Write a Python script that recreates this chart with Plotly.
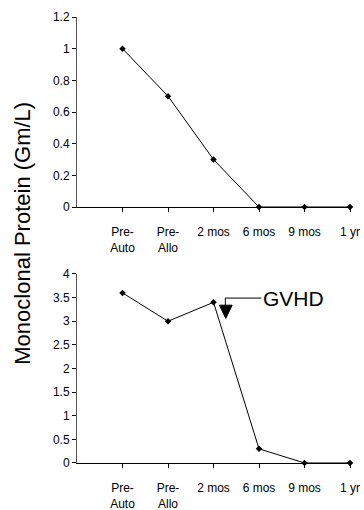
import plotly.graph_objects as go

categories = ["Pre-<br>Auto", "Pre-<br>Allo", "2 mos", "6 mos", "9 mos", "1 yr"]
positions = [0, 1, 2, 3, 4, 5]
top_values = [1.0, 0.7, 0.3, 0.0, 0.0, 0.0]
bottom_values = [3.6, 3.0, 3.4, 0.3, 0.0, 0.0]
top_ticks = [0, 0.2, 0.4, 0.6, 0.8, 1, 1.2]
bottom_ticks = [0, 0.5, 1, 1.5, 2, 2.5, 3, 3.5, 4]

FONT = "Arial, Liberation Sans, sans-serif"

fig = go.Figure()
for vals, xa, ya in [(top_values, "x", "y"), (bottom_values, "x2", "y2")]:
    fig.add_trace(go.Scatter(
        x=positions, y=vals, mode="lines+markers", xaxis=xa, yaxis=ya,
        line=dict(color="black", width=1),
        marker=dict(symbol="diamond", size=5, color="black"),
        showlegend=False, cliponaxis=False,
    ))

xcommon = dict(range=[-1, 5], tickvals=positions, ticktext=categories,
               showgrid=False, zeroline=False, showline=True, linecolor="black",
               linewidth=1, ticks="outside", ticklen=4, tickcolor="black",
               tickfont=dict(family=FONT, size=12, color="black"),
               ticklabelstandoff=10, automargin=False)
ycommon = dict(showgrid=False, zeroline=False, showline=True, linecolor="#555",
               linewidth=1, ticks="outside", ticklen=4, tickcolor="black",
               tickfont=dict(family=FONT, size=12, color="black"), automargin=False)

fig.update_layout(
    width=364, height=510,
    margin=dict(l=77, r=14, t=17, b=47),
    plot_bgcolor="white", paper_bgcolor="white",
    xaxis=dict(domain=[0, 1], anchor="y", **xcommon),
    yaxis=dict(domain=[0.574, 1], anchor="x", range=[0, 1.2], tickvals=top_ticks,
               ticktext=["0", "0.2", "0.4", "0.6", "0.8", "1", "1.2"], **ycommon),
    xaxis2=dict(domain=[0, 1], anchor="y2", **xcommon),
    yaxis2=dict(domain=[0, 0.4238], anchor="x2", range=[0, 4], tickvals=bottom_ticks,
                ticktext=["0", "0.5", "1", "1.5", "2", "2.5", "3", "3.5", "4"], **ycommon),
)

fig.add_annotation(
    text="Monoclonal Protein (Gm/L)", xref="paper", yref="paper",
    x=-0.2, y=0.515, xanchor="center", yanchor="middle", textangle=-90, showarrow=False,
    font=dict(family=FONT, size=22, color="black"),
)

fig.add_annotation(
    text="GVHD", xref="x2", yref="y2", x=3.05, y=3.49, xanchor="left",
    yanchor="middle", showarrow=False,
    font=dict(family=FONT, size=21, color="black"),
)
fig.add_shape(type="path", xref="x2", yref="y2",
              path="M 3.05 3.49 L 2.26 3.49 L 2.26 3.3",
              line=dict(color="black", width=1))
fig.add_shape(type="path", xref="x2", yref="y2",
              path="M 2.13 3.34 L 2.41 3.34 L 2.27 3.06 Z",
              fillcolor="black", line=dict(color="black", width=1))

fig.write_html("out.html", config={"displayModeBar": False},
               post_script="document.body.style.margin='0';document.body.style.overflow='hidden';")
